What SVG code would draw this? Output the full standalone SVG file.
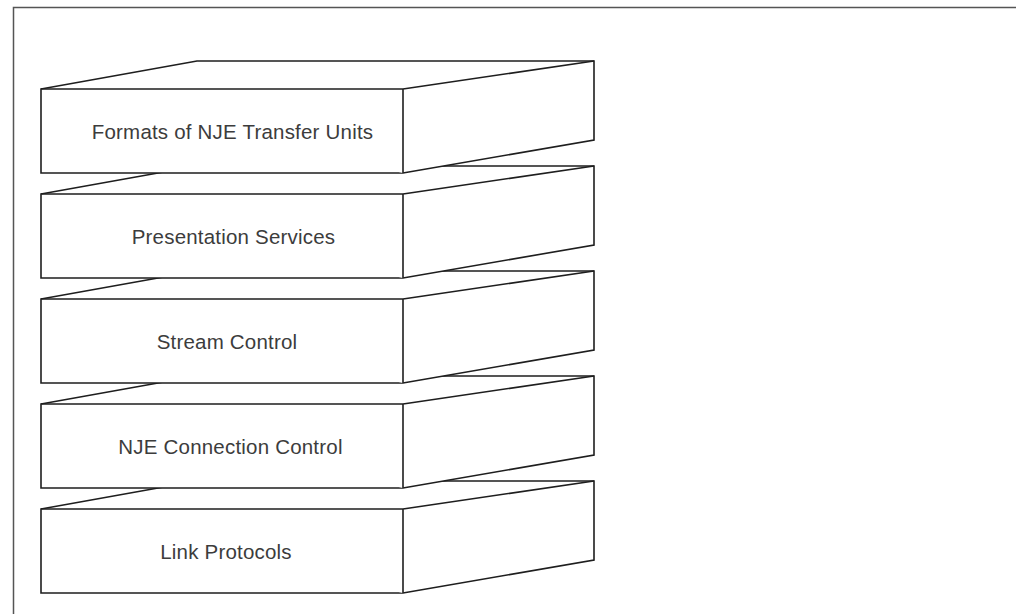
<svg xmlns="http://www.w3.org/2000/svg" width="1016" height="614" viewBox="0 0 1016 614">
<style>
.frame{fill:none;stroke:#555;stroke-width:1.5}
.box{fill:#fff;stroke:#1e1e1e;stroke-width:1.6;stroke-linejoin:miter}
.lbl{font-family:"Liberation Sans",Arial,sans-serif;font-size:20.5px;letter-spacing:0.2px;fill:#3c3c3c;text-anchor:middle}
</style>
<rect width="1016" height="614" fill="#fff"/>
<path class="frame" d="M13.5,614 V7.5 H1016"/>
<defs>
<g id="layer">
<path class="box" d="M41,89 L197,61 L594,61 L594,140 L403,173 L41,173 Z"/>
<path class="box" d="M41,89 H403 V173 M403,89 L594,61"/>
</g>
</defs>
<g id="layer5" transform="translate(0,420)">
<use href="#layer"/>
<text class="lbl" x="226" y="138.5">Link Protocols</text>
</g>
<g id="layer4" transform="translate(0,315)">
<use href="#layer"/>
<text class="lbl" x="230.5" y="138.5">NJE Connection Control</text>
</g>
<g id="layer3" transform="translate(0,210)">
<use href="#layer"/>
<text class="lbl" x="227" y="138.5">Stream Control</text>
</g>
<g id="layer2" transform="translate(0,105)">
<use href="#layer"/>
<text class="lbl" x="233.5" y="138.5">Presentation Services</text>
</g>
<g id="layer1">
<use href="#layer"/>
<text class="lbl" x="232.5" y="138.5">Formats of NJE Transfer Units</text>
</g>
</svg>
